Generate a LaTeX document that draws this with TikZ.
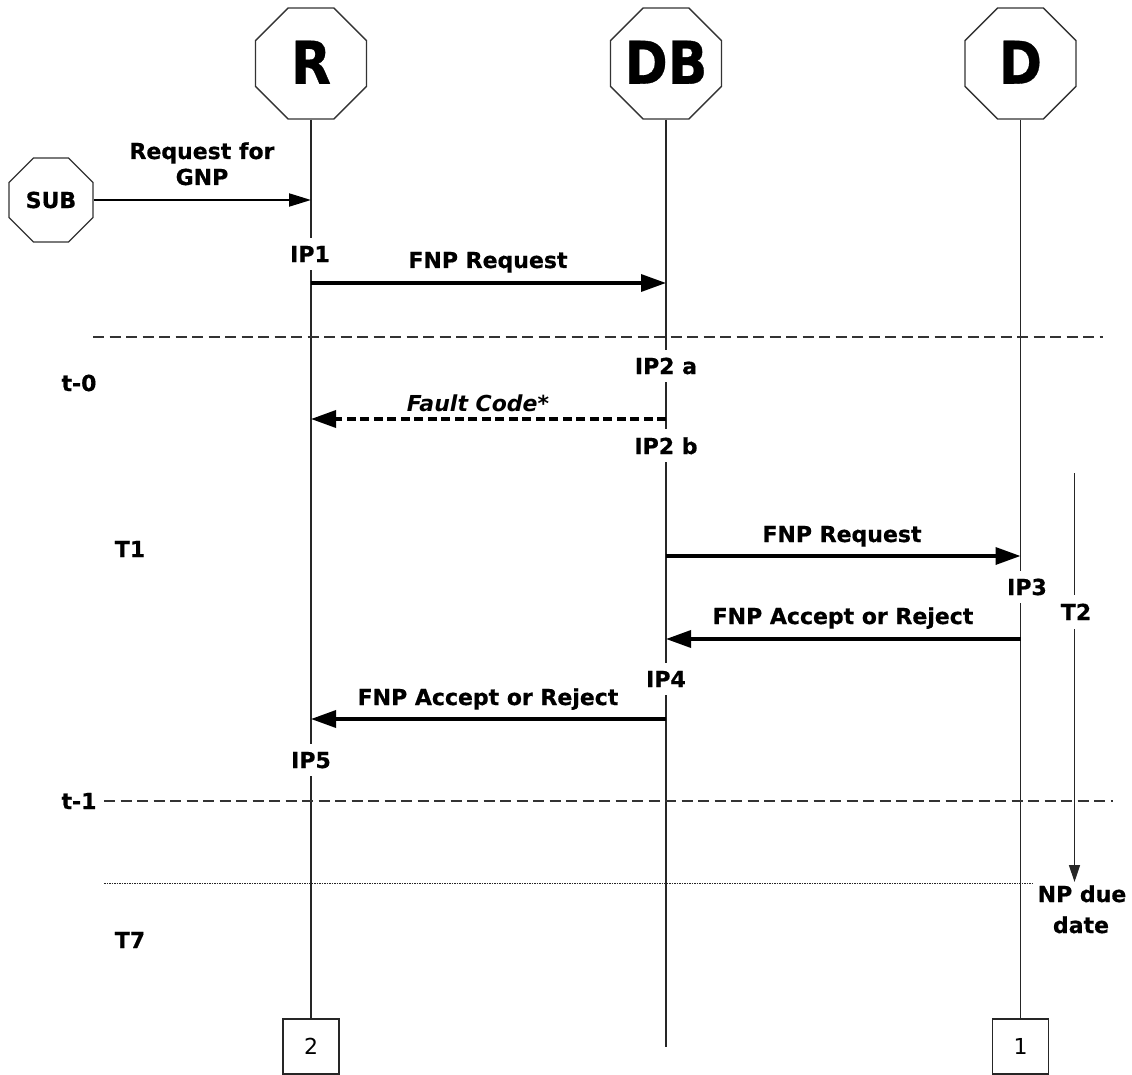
\documentclass[tikz,border=0pt]{standalone}
\usepackage{fontspec}
\setmainfont{DejaVu Sans}[BoldFeatures={FakeBold=0.6}]
\usetikzlibrary{shapes.geometric,arrows.meta}

\newcommand{\partyname}[1]{\raisebox{2.5pt}{\makebox[0pt]{\scalebox{0.88}[1]{#1}}}}

\begin{document}
\begin{tikzpicture}[x=1pt,y=-1pt,
  party/.style={regular polygon, regular polygon sides=8, draw=black!80,
    line width=1.3pt, fill=white, inner sep=0pt, minimum size=120pt,
    font=\fontsize{59}{60}\selectfont\bfseries},
  subscriber/.style={party, minimum size=91pt,
    font=\fontsize{22}{24}\selectfont\bfseries},
  endbox/.style={draw=black!85, line width=1.2pt, minimum width=56pt,
    minimum height=55pt, inner sep=0pt, font=\fontsize{22}{24}\selectfont},
  lifeline/.style={line width=1.3pt, black!85},
  lbl/.style={anchor=base, inner sep=0pt, font=\fontsize{22}{26}\selectfont\bfseries},
  cutlbl/.style={lbl, fill=white, inner xsep=2pt, inner ysep=8pt},
  msg/.style={line width=3.5pt, -{Triangle[length=25pt,width=17pt]}},
  thinmsg/.style={line width=2pt, -{Triangle[length=22pt,width=13pt]}},
  faultmsg/.style={msg, dash pattern=on 9pt off 4.5pt},
  timeline/.style={line width=1.2pt, black!80, dash pattern=on 11pt off 5.5pt},
  dueline/.style={line width=1pt, black!85, dash pattern=on 1.5pt off 1pt},
  period/.style={line width=1.5pt, black!85, -{Triangle[length=17pt,width=11pt]}}
]
\useasboundingbox (0,0) rectangle (1132,1075);

% parties
\node[party] (R)  at (311,63.5) {\partyname{R}};
\node[party] (DB) at (666,63.5) {\partyname{DB}};
\node[party] (D)  at (1020.5,63.5) {\partyname{D}};
\node[subscriber] (SUB) at (51,200) {\makebox[0pt]{SUB}};

% end markers
\node[endbox] (E2) at (311,1046.5) {2};
\node[endbox] (E1) at (1020.5,1046.5) {1};
\coordinate (DBend) at (666,1047);

% lifelines
\draw[lifeline] (R.south) -- (E2.north);
\draw[lifeline] (DB.south) -- (DBend);
\draw[lifeline] (D.south) -- (E1.north);

% message rows
\coordinate (row1) at (0,283);
\coordinate (row2) at (0,419);
\coordinate (row3) at (0,556);
\coordinate (row4) at (0,639);
\coordinate (row5) at (0,719);

% phase separators
\coordinate (t0a) at (93,337);   \coordinate (t0b) at (1103,337);
\coordinate (t1a) at (104,801);  \coordinate (t1b) at (1113,801);
\coordinate (t7a) at (104,883);  \coordinate (t7b) at (1033,883);
\draw[timeline] (t0a) -- (t0b);
\draw[timeline] (t1a) -- (t1b);
\draw[dueline] (t7a) -- (t7b);

% T2 period
\coordinate (T2a) at (1074.5,473);
\coordinate (T2b) at (1074.5,882);
\draw[period] (T2a) -- (T2b);

% messages
\draw[thinmsg] (SUB.east) -- (SUB.east -| R.south);
\draw[msg] (R |- row1) -- (DB |- row1);
\draw[faultmsg] (DB |- row2) -- (R |- row2);
\draw[msg] (DB |- row3) -- (D |- row3);
\draw[msg] (D |- row4) -- (DB |- row4);
\draw[msg] (DB |- row5) -- (R |- row5);

% message labels
\node[lbl] (lreq) at (202,159) {Request for};
\node[lbl] (lgnp) at (202,185) {GNP};
\node[lbl] (lfnp1) at (488,268) {FNP Request};
\node[lbl, font=\fontsize{22}{26}\selectfont\bfseries\itshape] (lfault) at (478,411) {Fault Code*};
\node[lbl] (lfnp2) at (842,542) {FNP Request};
\node[lbl] (lacc1) at (843,624) {FNP Accept or Reject};
\node[lbl] (lacc2) at (488,705) {FNP Accept or Reject};

% interaction points
\node[cutlbl] (IP1) at (310,262) {IP1};
\node[cutlbl] (IP2a) at (666,374) {IP2 a};
\node[cutlbl] (IP2b) at (666,454) {IP2 b};
\node[cutlbl] (IP3) at (1027,595) {IP3};
\node[cutlbl] (IP4) at (666,687) {IP4};
\node[cutlbl] (IP5) at (311,768) {IP5};
\node[cutlbl, inner ysep=9pt] (T2) at (1076,620) {T2};

% phase labels
\node[lbl] (t0) at (79,391) {t-0};
\node[lbl] (T1) at (130,557) {T1};
\node[lbl] (t1) at (79,809) {t-1};
\node[lbl] (T7) at (130,948) {T7};
\node[lbl] (due1) at (1082,902) {NP due};
\node[lbl] (due2) at (1081,933) {date};

\end{tikzpicture}
\end{document}
